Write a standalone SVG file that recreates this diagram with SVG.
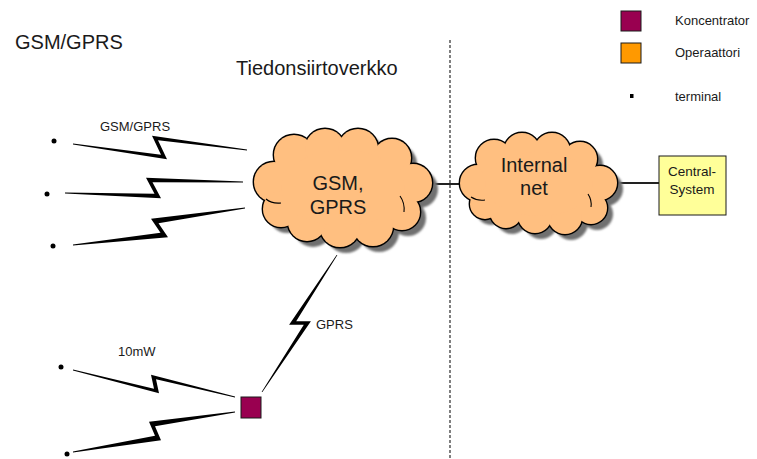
<svg xmlns="http://www.w3.org/2000/svg" xmlns:xlink="http://www.w3.org/1999/xlink" width="757" height="459" viewBox="0 0 757 459">
  <style>
    text { font-family: "Liberation Sans", Arial, sans-serif; fill: #1a1a1a; }
    .title { font-size: 20px; }
    .cloud-label { font-size: 20px; text-anchor: middle; }
    .small { font-size: 13px; }
    .box-label { font-size: 13.5px; text-anchor: middle; }
    .bolt { fill: #000; }
    .terminal { fill: #000; }
    .lobe-shadow { fill: #707070; }
    .lobe-edge { fill: #000; stroke: #000; stroke-width: 2.8; }
    .lobe-fill { fill: #FFBF80; stroke: none; }
    .curl { fill: none; stroke: #000; stroke-width: 1.1; }
    .link { stroke: #222; stroke-width: 2; fill: none; }
    .divider { stroke: #5f5f5f; stroke-width: 1.6; stroke-dasharray: 3 2; fill: none; }
    .koncentrator { fill: #990050; stroke: #1a1a1a; stroke-width: 1; }
    .operaattori { fill: #FF9900; stroke: #1a1a1a; stroke-width: 1; }
    .central { fill: #FFFF99; stroke: #1a1a1a; stroke-width: 1; }
  </style>
  <defs>
    <filter id="soft" x="-20%" y="-20%" width="140%" height="140%">
      <feGaussianBlur stdDeviation="1.3"/>
    </filter>
    <!-- lobes of the GSM/GPRS cloud -->
    <g id="gsm-lobes">
      <circle cx="274" cy="182" r="20"/>
      <circle cx="294" cy="155" r="20"/>
      <circle cx="325" cy="149" r="20"/>
      <circle cx="358" cy="149" r="20"/>
      <circle cx="392" cy="158" r="19"/>
      <circle cx="413" cy="183" r="19"/>
      <circle cx="402" cy="212" r="18"/>
      <circle cx="373" cy="226" r="20"/>
      <circle cx="340" cy="227" r="20"/>
      <circle cx="307" cy="222" r="19"/>
      <circle cx="281" cy="209" r="18"/>
    </g>
    <!-- lobes of the internal network cloud -->
    <g id="net-lobes">
      <circle cx="478" cy="183" r="18"/>
      <circle cx="494" cy="158" r="18"/>
      <circle cx="522" cy="151" r="18"/>
      <circle cx="552" cy="151" r="18"/>
      <circle cx="580" cy="159" r="17"/>
      <circle cx="600" cy="183" r="17"/>
      <circle cx="591" cy="208" r="16"/>
      <circle cx="565" cy="217" r="17"/>
      <circle cx="535" cy="216" r="17"/>
      <circle cx="506" cy="212" r="16"/>
      <circle cx="485" cy="204" r="15"/>
    </g>
  </defs>

  <!-- headings -->
  <text class="title" x="15" y="49">GSM/GPRS</text>
  <text class="title" x="236" y="75">Tiedonsiirtoverkko</text>

  <!-- network boundary -->
  <line class="divider" x1="450" y1="40" x2="450" y2="459"/>

  <!-- legend -->
  <g id="legend">
    <rect class="koncentrator" x="621" y="11" width="20" height="20"/>
    <text class="small" x="675" y="25">Koncentrator</text>
    <rect class="operaattori" x="621" y="43" width="20" height="20"/>
    <text class="small" x="675" y="57">Operaattori</text>
    <rect class="terminal" x="630" y="94" width="3.5" height="4"/>
    <text class="small" x="675" y="101">terminal</text>
  </g>

  <!-- connectors -->
  <g id="connectors">
    <line class="link" x1="430" y1="184" x2="464" y2="184"/>
    <line class="link" x1="615" y1="183" x2="659" y2="183"/>
    <!-- radio links drawn as tapered lightning bolts -->
    <polygon class="bolt" points="73,143.6 161,154.8 152,135.8 247,149.6 247,150.4 158,140.2 167,159.2 73,144.4"/>
    <polygon class="bolt" points="65,192.6 154.5,193.8 146,177.8 243,181.6 243,182.4 152.5,182.2 161,198.2 65,193.4"/>
    <polygon class="bolt" points="73,244.6 160.5,232.8 151,218.8 245,207.6 245,208.4 158.5,223.2 168,237.2 73,245.4"/>
    <polygon class="bolt" points="73,369.6 154,388.8 151,374.8 235,396.6 235,397.4 156,379.2 159,393.2 73,370.4"/>
    <polygon class="bolt" points="73,451.6 155,435.8 149,421.8 235,411.6 235,412.4 155,426.2 161,440.2 73,452.4"/>
    <polygon class="bolt" points="261.6,392 303.8,324.8 289.1,324.8 336.6,255 337.4,255 296.2,321.2 310.9,321.2 262.4,392"/>
    <text class="small" x="100" y="131">GSM/GPRS</text>
    <text class="small" x="118" y="356">10mW</text>
    <text class="small" x="316" y="329">GPRS</text>
  </g>

  <!-- terminals -->
  <g id="terminals">
    <circle class="terminal" cx="54" cy="141" r="2.5"/>
    <circle class="terminal" cx="47" cy="194" r="2.5"/>
    <circle class="terminal" cx="53" cy="246" r="2.5"/>
    <circle class="terminal" cx="61" cy="367" r="2.5"/>
    <circle class="terminal" cx="67" cy="454" r="2.5"/>
  </g>

  <!-- GSM / GPRS operator cloud -->
  <g id="cloud-gsm">
    <use xlink:href="#gsm-lobes" href="#gsm-lobes" class="lobe-shadow" transform="translate(6,6)" filter="url(#soft)"/>
    <ellipse class="lobe-shadow" cx="349" cy="194" rx="62" ry="38" filter="url(#soft)"/>
    <use xlink:href="#gsm-lobes" href="#gsm-lobes" class="lobe-edge"/>
    <use xlink:href="#gsm-lobes" href="#gsm-lobes" class="lobe-fill"/>
    <ellipse class="lobe-fill" cx="343" cy="188" rx="62" ry="38"/>
    <path class="curl" d="M 266,199 Q 272,204 281,203"/>
    <path class="curl" d="M 400,196 Q 405,203 404,212"/>
    <text class="cloud-label" x="338" y="190">GSM,</text>
    <text class="cloud-label" x="338" y="214">GPRS</text>
  </g>

  <!-- internal network cloud -->
  <g id="cloud-internal">
    <use xlink:href="#net-lobes" href="#net-lobes" class="lobe-shadow" transform="translate(6,6)" filter="url(#soft)"/>
    <ellipse class="lobe-shadow" cx="545" cy="190" rx="54" ry="32" filter="url(#soft)"/>
    <use xlink:href="#net-lobes" href="#net-lobes" class="lobe-edge"/>
    <use xlink:href="#net-lobes" href="#net-lobes" class="lobe-fill"/>
    <ellipse class="lobe-fill" cx="539" cy="184" rx="54" ry="32"/>
    <path class="curl" d="M 471,197 Q 477,201 485,200"/>
    <path class="curl" d="M 588,194 Q 592,200 591,207"/>
    <text class="cloud-label" x="534" y="172">Internal</text>
    <text class="cloud-label" x="534" y="195">net</text>
  </g>

  <!-- concentrator -->
  <g id="concentrator">
    <rect class="koncentrator" x="241" y="397" width="20" height="21"/>
  </g>

  <!-- central system -->
  <g id="central-system">
    <rect class="central" x="659" y="156" width="67" height="59"/>
    <text class="box-label" x="692" y="176">Central-</text>
    <text class="box-label" x="692" y="194">System</text>
  </g>
</svg>
